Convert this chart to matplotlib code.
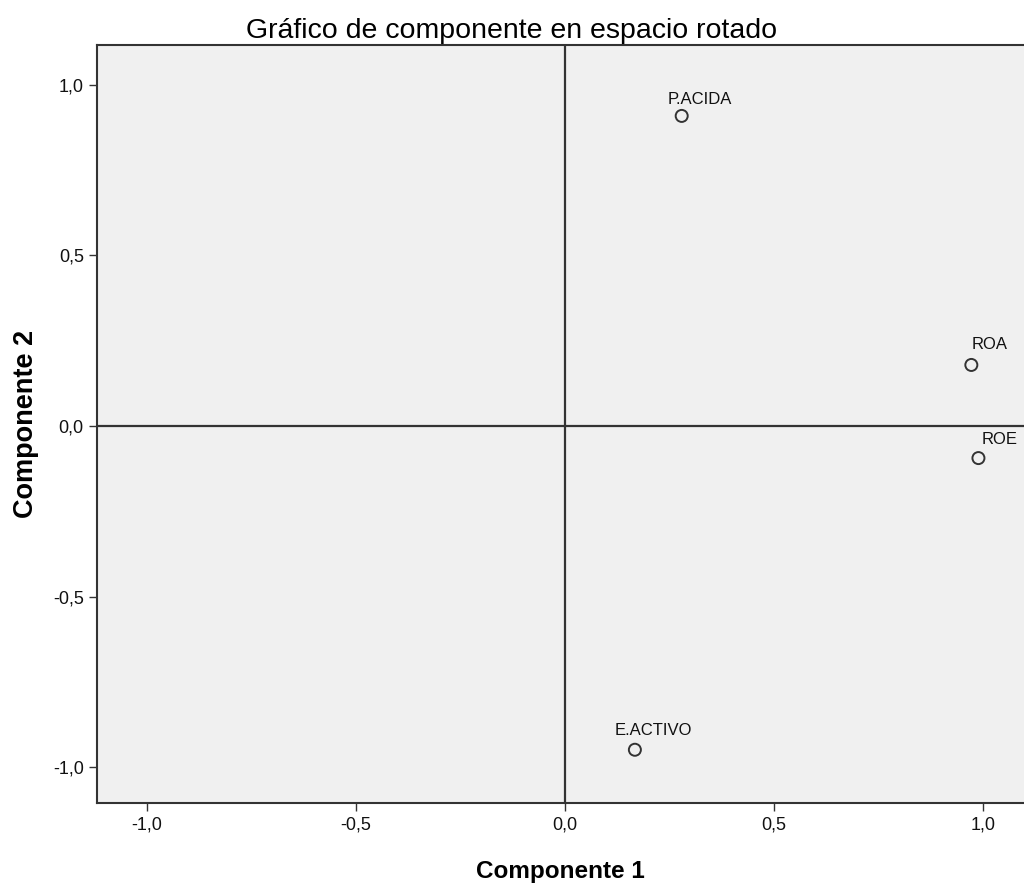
import numpy as np
import matplotlib.pyplot as plt
from matplotlib.ticker import FuncFormatter

plt.rcParams['font.family'] = ['Liberation Sans', 'DejaVu Sans']

# loadings of the rotated components
variables = ['P.ACIDA', 'ROA', 'ROE', 'E.ACTIVO']
comp1 = [0.279, 0.972, 0.989, 0.167]
comp2 = [0.909, 0.179, -0.094, -0.949]
ticks = [-1.0, -0.5, 0.0, 0.5, 1.0]

# label offsets in pixels (left edge, baseline) relative to each point
offsets = {'P.ACIDA': (-14, 12), 'ROA': (0, 16), 'ROE': (3, 14), 'E.ACTIVO': (-20, 15)}

fig = plt.figure(figsize=(10.24, 8.92), dpi=100)
ax = fig.add_axes([0.0947, 0.0998, 0.9053, 0.8498])
ax.set_facecolor('#f0f0f0')

ax.axhline(0, color='#333333', lw=1.6, zorder=1)
ax.axvline(0, color='#333333', lw=1.6, zorder=1)

ax.scatter(comp1, comp2, s=75, facecolors='none', edgecolors='#333333',
           linewidths=1.4, zorder=3)
for name, x, y in zip(variables, comp1, comp2):
    dx, dy = offsets[name]
    ax.annotate(name, (x, y), xytext=(dx, dy), textcoords='offset pixels',
                ha='left', va='baseline', fontsize=12, color='#111111')

ax.set_xlim(-1.12, 1.098)
ax.set_ylim(-1.105, 1.117)
ax.set_xticks(ticks)
ax.set_yticks(ticks)
fmt = FuncFormatter(lambda v, p: f'{v:.1f}'.replace('.', ','))
ax.xaxis.set_major_formatter(fmt)
ax.yaxis.set_major_formatter(fmt)
ax.tick_params(direction='out', length=6, width=1, colors='#333333',
               labelsize=13, labelcolor='#111111')

for side in ['left', 'top', 'bottom']:
    ax.spines[side].set_linewidth(1.5)
    ax.spines[side].set_color('#333333')
ax.spines['right'].set_visible(False)

# the original chart was wider, so the title sits at the figure centre
ax.set_title('Gráfico de componente en espacio rotado', fontsize=20.5, pad=5,
             x=(0.5 - 0.0947) / 0.9053)
ax.set_xlabel('Componente 1', fontsize=17.5, fontweight='bold', labelpad=19)
ax.set_ylabel('Componente 2', fontsize=19.5, fontweight='bold', labelpad=10)

fig.savefig('out.png', dpi=100)
